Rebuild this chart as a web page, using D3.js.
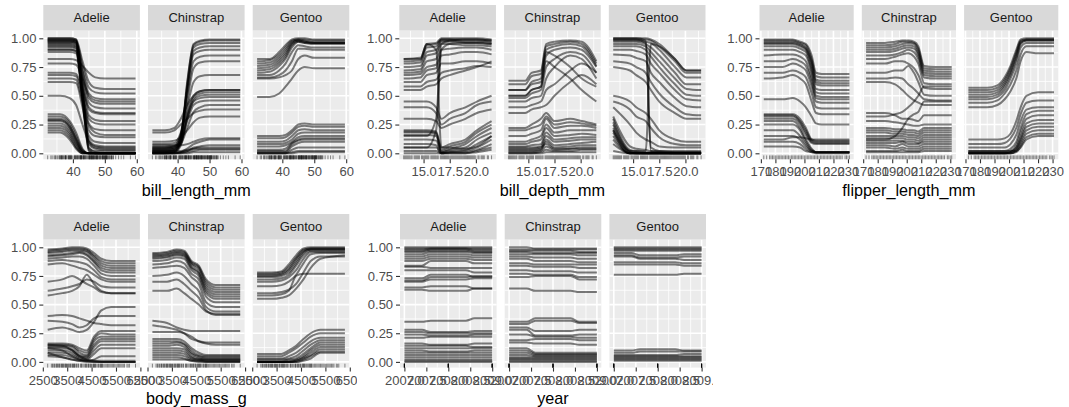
<!DOCTYPE html>
<html>
<head>
<meta charset="utf-8">
<script src="https://cdn.jsdelivr.net/npm/d3@7"></script>
<style>
body { margin: 0; background: #fff; }
text { font-family: "Liberation Sans", Arial, sans-serif; }
</style>
</head>
<body>
<script>
var species = ["Adelie", "Chinstrap", "Gentoo"];
var yTicks = [0, 0.25, 0.5, 0.75, 1];

// ---- bill_length_mm ----
var blGrid = [32.1, 36, 39, 41, 43, 45, 47, 50, 59.6];
var blTicks = [40, 50, 60];
var blRug = [39.1,39.5,40.3,36.7,39.3,38.9,39.2,34.1,42.0,37.8,41.1,38.6,34.6,36.6,38.7,42.5,34.4,46.0,37.7,35.9,38.2,38.8,35.3,40.6,40.5,37.9,37.2,40.9,36.4,42.2,37.6,39.8,36.5,40.8,36.0,44.1,37.0,39.6,37.5,42.3,46.5,50.0,51.3,45.4,52.7,45.2,46.1,46.0,46.6,51.7,47.0,52.0,45.9,50.5,50.3,58.0,46.4,49.2,42.4,48.5,43.2,50.6,46.7,48.7,47.6,45.5,48.4,45.8,49.3,49.6,50.2,45.1,46.3,42.9,44.5,47.8,48.2,47.3,42.8,59.6,49.1,42.6,44.4,44.0,42.7,45.3,43.6,44.9,50.1,45.0,43.8,50.4,45.7,54.3,49.8,49.5,43.5,50.7,47.7,47.5,51.1,52.5,47.4,50.8,43.4,52.1,52.2,49.4,46.9,55.9,47.2,41.7,53.4,43.3,48.1,51.5,55.1,48.8,49.9,32.1,33.1,33.5,35.0,35.7,36.2,41.3,41.4,41.6];
var blAdelie = [
  [1.00,1.00,1.00,0.99,0.55,0.03,0.00,0.00,0.00],
  [0.99,0.99,0.99,0.98,0.50,0.02,0.00,0.00,0.00],
  [0.98,0.98,0.98,0.97,0.60,0.05,0.01,0.00,0.00],
  [0.97,0.97,0.97,0.96,0.45,0.04,0.02,0.02,0.02],
  [0.95,0.95,0.95,0.94,0.50,0.08,0.04,0.03,0.03],
  [0.93,0.93,0.93,0.92,0.45,0.10,0.05,0.04,0.04],
  [0.90,0.90,0.90,0.89,0.50,0.12,0.07,0.06,0.06],
  [1.00,1.00,1.00,0.99,0.80,0.62,0.57,0.56,0.56],
  [0.99,0.99,0.99,0.98,0.76,0.57,0.53,0.52,0.52],
  [0.98,0.98,0.98,0.97,0.72,0.52,0.48,0.47,0.47],
  [0.97,0.97,0.97,0.96,0.70,0.48,0.44,0.43,0.43],
  [0.96,0.96,0.96,0.95,0.66,0.44,0.40,0.39,0.39],
  [0.94,0.94,0.94,0.93,0.62,0.38,0.35,0.34,0.34],
  [0.92,0.92,0.92,0.91,0.58,0.33,0.29,0.28,0.28],
  [0.90,0.90,0.90,0.89,0.52,0.26,0.21,0.20,0.20],
  [0.88,0.88,0.88,0.87,0.48,0.20,0.15,0.14,0.14],
  [0.82,0.82,0.82,0.81,0.76,0.70,0.66,0.65,0.65],
  [0.78,0.78,0.78,0.77,0.65,0.50,0.46,0.45,0.45],
  [0.70,0.70,0.70,0.69,0.55,0.40,0.36,0.35,0.35],
  [0.68,0.68,0.68,0.67,0.50,0.30,0.26,0.25,0.25],
  [0.65,0.65,0.65,0.64,0.45,0.24,0.18,0.16,0.16],
  [0.62,0.62,0.62,0.61,0.40,0.15,0.10,0.09,0.09],
  [0.50,0.50,0.48,0.42,0.25,0.10,0.06,0.05,0.05],
  [0.34,0.34,0.28,0.18,0.04,0.00,0.00,0.00,0.00],
  [0.32,0.32,0.26,0.15,0.03,0.00,0.00,0.00,0.00],
  [0.30,0.30,0.24,0.13,0.02,0.00,0.00,0.00,0.00],
  [0.29,0.29,0.23,0.12,0.02,0.00,0.00,0.00,0.00],
  [0.28,0.28,0.22,0.11,0.01,0.00,0.00,0.00,0.00],
  [0.26,0.26,0.20,0.09,0.01,0.00,0.00,0.00,0.00],
  [0.24,0.24,0.18,0.08,0.01,0.00,0.00,0.00,0.00],
  [0.22,0.22,0.16,0.06,0.00,0.00,0.00,0.00,0.00],
  [0.20,0.20,0.14,0.05,0.00,0.00,0.00,0.00,0.00],
  [0.18,0.18,0.12,0.04,0.00,0.00,0.00,0.00,0.00]
];
var blChinstrap = [
  [0.00,0.00,0.01,0.10,0.60,0.95,0.98,0.99,0.99],
  [0.01,0.01,0.02,0.12,0.62,0.94,0.97,0.98,0.98],
  [0.02,0.02,0.03,0.14,0.58,0.92,0.95,0.96,0.96],
  [0.03,0.03,0.04,0.15,0.55,0.89,0.92,0.93,0.93],
  [0.05,0.05,0.06,0.17,0.55,0.86,0.89,0.90,0.90],
  [0.06,0.06,0.07,0.16,0.50,0.80,0.84,0.85,0.85],
  [0.04,0.04,0.05,0.14,0.45,0.74,0.79,0.80,0.80],
  [0.08,0.08,0.09,0.18,0.40,0.62,0.67,0.68,0.68],
  [0.02,0.02,0.03,0.10,0.35,0.50,0.54,0.55,0.55],
  [0.03,0.03,0.04,0.10,0.33,0.48,0.52,0.53,0.53],
  [0.01,0.01,0.02,0.08,0.31,0.46,0.50,0.51,0.51],
  [0.00,0.00,0.01,0.07,0.30,0.45,0.48,0.49,0.49],
  [0.05,0.05,0.06,0.10,0.28,0.42,0.45,0.46,0.46],
  [0.20,0.20,0.22,0.30,0.42,0.50,0.54,0.55,0.55],
  [0.18,0.18,0.20,0.25,0.30,0.35,0.37,0.38,0.38],
  [0.10,0.10,0.11,0.14,0.20,0.27,0.31,0.32,0.32],
  [0.04,0.04,0.05,0.08,0.22,0.36,0.40,0.42,0.42],
  [0.00,0.00,0.00,0.01,0.04,0.08,0.10,0.12,0.12],
  [0.00,0.00,0.00,0.01,0.02,0.05,0.06,0.07,0.07],
  [0.01,0.01,0.01,0.01,0.02,0.04,0.05,0.05,0.05],
  [0.00,0.00,0.00,0.00,0.01,0.02,0.03,0.03,0.03],
  [0.02,0.02,0.02,0.02,0.03,0.04,0.04,0.04,0.04],
  [0.00,0.00,0.00,0.00,0.00,0.01,0.01,0.01,0.01],
  [0.07,0.07,0.07,0.07,0.08,0.10,0.12,0.13,0.13]
];
var blGentoo = [
  [0.82,0.82,0.88,0.94,0.99,1.00,1.00,0.99,0.99],
  [0.80,0.81,0.86,0.92,0.98,0.99,0.99,0.98,0.98],
  [0.78,0.79,0.84,0.90,0.97,0.99,0.98,0.97,0.97],
  [0.76,0.77,0.82,0.88,0.96,0.98,0.97,0.96,0.96],
  [0.74,0.75,0.80,0.86,0.95,0.98,0.97,0.96,0.96],
  [0.72,0.73,0.78,0.84,0.94,0.97,0.96,0.95,0.95],
  [0.70,0.71,0.76,0.82,0.92,0.97,0.96,0.96,0.96],
  [0.68,0.68,0.72,0.78,0.88,0.94,0.93,0.92,0.92],
  [0.66,0.66,0.68,0.72,0.80,0.91,0.91,0.90,0.90],
  [0.65,0.65,0.66,0.68,0.72,0.82,0.85,0.83,0.83],
  [0.49,0.49,0.52,0.58,0.65,0.72,0.75,0.74,0.74],
  [0.15,0.15,0.15,0.16,0.20,0.25,0.26,0.25,0.25],
  [0.13,0.13,0.13,0.14,0.18,0.23,0.24,0.23,0.23],
  [0.10,0.10,0.10,0.11,0.15,0.20,0.21,0.20,0.20],
  [0.08,0.08,0.08,0.09,0.12,0.17,0.18,0.18,0.18],
  [0.06,0.06,0.06,0.07,0.10,0.14,0.15,0.15,0.15],
  [0.03,0.03,0.03,0.04,0.09,0.12,0.13,0.13,0.13],
  [0.02,0.02,0.02,0.02,0.08,0.11,0.12,0.12,0.12],
  [0.01,0.01,0.01,0.01,0.06,0.09,0.10,0.10,0.10],
  [0.00,0.00,0.00,0.00,0.03,0.05,0.05,0.05,0.05],
  [0.00,0.00,0.00,0.00,0.01,0.02,0.02,0.02,0.02],
  [0.00,0.00,0.00,0.00,0.00,0.01,0.01,0.01,0.01]
];

// ---- bill_depth_mm ----
var bdGrid = [13.1, 14.7, 15.3, 16.2, 16.7, 17.5, 19.0, 20.1, 21.5];
var bdTicks = [15, 17.5, 20];
var bdRug = [18.7,17.4,18.0,19.3,20.6,17.8,19.6,18.1,20.2,17.1,17.3,17.6,21.2,21.1,19.0,20.7,18.4,21.5,18.3,19.2,17.2,18.9,18.6,17.9,16.7,17.0,20.0,18.5,19.1,19.7,16.9,18.8,17.7,19.5,17.5,16.6,18.2,16.2,19.4,16.8,16.1,20.3,15.5,13.2,16.3,14.1,15.2,14.5,13.5,14.6,15.3,13.4,15.4,13.7,14.8,14.2,13.6,13.1,15.7,15.1,14.3,15.0,14.4,13.9,13.8,14.9,15.8,16.4,19.8,20.8,19.9,20.5,16.0,15.9,13.3];
var bdAdelie = [
  [0.82,0.83,0.95,0.96,1.00,1.00,1.00,1.00,0.99],
  [0.80,0.81,0.94,0.95,0.99,0.99,0.99,0.99,0.98],
  [0.78,0.79,0.92,0.93,0.99,0.99,0.98,0.98,0.97],
  [0.75,0.76,0.88,0.90,0.98,0.98,0.97,0.97,0.96],
  [0.72,0.73,0.85,0.87,0.97,0.97,0.96,0.96,0.95],
  [0.70,0.71,0.80,0.82,0.95,0.95,0.94,0.94,0.93],
  [0.68,0.69,0.75,0.77,0.90,0.91,0.92,0.92,0.90],
  [0.65,0.66,0.72,0.74,0.85,0.86,0.88,0.88,0.86],
  [0.62,0.62,0.68,0.70,0.78,0.78,0.80,0.80,0.78],
  [0.58,0.58,0.62,0.64,0.70,0.72,0.74,0.76,0.75],
  [0.55,0.55,0.58,0.60,0.65,0.68,0.72,0.75,0.80],
  [0.45,0.45,0.45,0.40,0.30,0.35,0.40,0.45,0.50],
  [0.40,0.40,0.40,0.35,0.25,0.30,0.35,0.42,0.45],
  [0.30,0.30,0.30,0.28,0.22,0.25,0.30,0.35,0.38],
  [0.20,0.20,0.20,0.19,0.05,0.08,0.12,0.20,0.28],
  [0.19,0.19,0.19,0.18,0.03,0.06,0.10,0.18,0.25],
  [0.18,0.18,0.18,0.17,0.02,0.04,0.08,0.15,0.22],
  [0.16,0.16,0.16,0.15,0.01,0.03,0.05,0.12,0.18],
  [0.12,0.12,0.12,0.11,0.01,0.02,0.03,0.08,0.15],
  [0.08,0.08,0.08,0.07,0.00,0.01,0.02,0.05,0.12],
  [0.05,0.05,0.05,0.05,0.00,0.01,0.01,0.03,0.08],
  [0.02,0.02,0.02,0.02,0.00,0.00,0.00,0.02,0.05],
  [0.00,0.00,0.00,0.00,0.00,0.00,0.00,0.01,0.03],
  [0.15,0.15,0.15,0.30,0.95,0.98,0.99,0.99,0.98],
  [0.05,0.05,0.05,0.20,0.90,0.95,0.96,0.96,0.95],
  [0.82,0.82,0.95,0.90,0.05,0.05,0.04,0.06,0.15]
];
var bdChinstrap = [
  [0.63,0.63,0.70,0.72,0.95,0.97,0.98,0.97,0.80],
  [0.60,0.60,0.67,0.69,0.93,0.95,0.97,0.95,0.78],
  [0.55,0.55,0.62,0.65,0.90,0.93,0.95,0.93,0.76],
  [0.50,0.50,0.55,0.58,0.85,0.90,0.92,0.90,0.75],
  [0.48,0.48,0.52,0.55,0.75,0.82,0.88,0.86,0.70],
  [0.45,0.45,0.48,0.50,0.65,0.75,0.85,0.82,0.65],
  [0.55,0.55,0.60,0.62,0.88,0.85,0.75,0.65,0.58],
  [0.50,0.50,0.55,0.58,0.80,0.75,0.65,0.55,0.45],
  [0.40,0.40,0.42,0.45,0.55,0.60,0.72,0.78,0.70],
  [0.35,0.35,0.38,0.40,0.42,0.50,0.62,0.68,0.60],
  [0.22,0.22,0.25,0.30,0.35,0.28,0.30,0.28,0.25],
  [0.20,0.20,0.22,0.25,0.32,0.25,0.27,0.26,0.24],
  [0.15,0.15,0.17,0.20,0.30,0.22,0.24,0.24,0.22],
  [0.10,0.10,0.12,0.15,0.25,0.18,0.20,0.20,0.20],
  [0.08,0.08,0.10,0.12,0.22,0.15,0.16,0.17,0.16],
  [0.06,0.06,0.07,0.08,0.18,0.12,0.13,0.14,0.14],
  [0.05,0.05,0.05,0.06,0.15,0.10,0.11,0.12,0.12],
  [0.03,0.03,0.03,0.04,0.12,0.07,0.08,0.09,0.10],
  [0.02,0.02,0.02,0.03,0.10,0.05,0.06,0.07,0.07],
  [0.01,0.01,0.01,0.02,0.06,0.03,0.04,0.05,0.05],
  [0.00,0.00,0.00,0.01,0.03,0.02,0.02,0.03,0.03],
  [0.00,0.00,0.00,0.00,0.01,0.01,0.01,0.01,0.01],
  [0.04,0.04,0.04,0.05,0.08,0.04,0.04,0.04,0.04]
];
var bdGentoo = [
  [1.00,1.00,1.00,1.00,0.99,0.95,0.82,0.72,0.72],
  [0.99,0.99,0.99,0.99,0.98,0.93,0.80,0.70,0.70],
  [0.98,0.98,0.98,0.97,0.96,0.90,0.75,0.66,0.66],
  [0.97,0.97,0.97,0.95,0.92,0.85,0.70,0.60,0.60],
  [0.95,0.95,0.95,0.93,0.88,0.80,0.65,0.56,0.55],
  [0.93,0.93,0.93,0.90,0.84,0.75,0.60,0.51,0.50],
  [0.90,0.90,0.89,0.86,0.78,0.70,0.55,0.47,0.46],
  [0.86,0.85,0.83,0.80,0.70,0.62,0.48,0.41,0.40],
  [0.80,0.78,0.75,0.70,0.62,0.52,0.40,0.34,0.33],
  [0.75,0.72,0.68,0.62,0.55,0.45,0.35,0.30,0.30],
  [1.00,1.00,1.00,0.98,0.05,0.02,0.01,0.01,0.01],
  [0.99,0.99,0.99,0.96,0.02,0.01,0.00,0.00,0.00],
  [0.20,0.02,0.02,0.02,0.95,0.93,0.82,0.72,0.72],
  [0.50,0.45,0.40,0.35,0.30,0.20,0.12,0.10,0.10],
  [0.45,0.38,0.32,0.28,0.22,0.14,0.08,0.07,0.07],
  [0.40,0.25,0.18,0.12,0.10,0.06,0.05,0.05,0.05],
  [0.32,0.06,0.04,0.03,0.02,0.02,0.02,0.02,0.02],
  [0.30,0.03,0.02,0.01,0.01,0.01,0.01,0.01,0.01],
  [0.27,0.02,0.01,0.00,0.00,0.00,0.00,0.00,0.00],
  [0.25,0.01,0.00,0.00,0.00,0.00,0.00,0.00,0.00],
  [0.22,0.01,0.00,0.00,0.00,0.00,0.00,0.00,0.00],
  [0.20,0.00,0.00,0.00,0.00,0.00,0.00,0.00,0.00],
  [0.18,0.00,0.00,0.00,0.00,0.00,0.00,0.00,0.00],
  [0.15,0.00,0.00,0.00,0.00,0.00,0.00,0.00,0.00],
  [0.12,0.00,0.00,0.00,0.00,0.00,0.00,0.00,0.00],
  [0.08,0.00,0.00,0.00,0.00,0.00,0.00,0.00,0.00],
  [0.02,0.00,0.00,0.00,0.00,0.00,0.00,0.00,0.00]
];

// ---- flipper_length_mm ----
var flGrid = [172, 185, 192, 197, 201, 205, 208, 212, 220, 231];
var flTicks = [170, 180, 190, 200, 210, 220, 230];
var flRug = [181,186,195,193,190,180,182,191,198,185,197,184,194,174,189,187,183,172,178,188,196,192,199,200,202,205,203,208,210,201,211,212,213,215,216,217,218,219,220,221,222,223,224,225,226,228,229,230,231,209,214,207,206,204,176,179,177];
var flAdelie = [
  [0.99,0.99,0.99,0.97,0.95,0.85,0.70,0.69,0.69,0.69],
  [0.98,0.98,0.98,0.96,0.94,0.82,0.67,0.66,0.66,0.66],
  [0.97,0.97,0.97,0.95,0.92,0.80,0.64,0.63,0.63,0.63],
  [0.96,0.96,0.96,0.94,0.91,0.78,0.62,0.61,0.61,0.61],
  [0.95,0.95,0.95,0.93,0.90,0.76,0.60,0.59,0.59,0.59],
  [0.93,0.93,0.93,0.91,0.88,0.72,0.56,0.55,0.55,0.55],
  [0.90,0.90,0.90,0.88,0.85,0.70,0.53,0.52,0.52,0.52],
  [0.85,0.86,0.86,0.84,0.80,0.65,0.50,0.49,0.49,0.49],
  [0.80,0.80,0.82,0.80,0.76,0.62,0.48,0.47,0.47,0.47],
  [0.75,0.75,0.78,0.76,0.72,0.58,0.45,0.44,0.44,0.44],
  [0.70,0.70,0.72,0.70,0.66,0.52,0.40,0.39,0.39,0.39],
  [0.65,0.66,0.68,0.65,0.60,0.45,0.35,0.34,0.34,0.34],
  [0.47,0.47,0.48,0.45,0.40,0.32,0.26,0.25,0.25,0.25],
  [0.34,0.34,0.34,0.30,0.22,0.12,0.11,0.11,0.11,0.11],
  [0.33,0.33,0.33,0.28,0.20,0.11,0.10,0.10,0.10,0.10],
  [0.32,0.32,0.32,0.27,0.18,0.10,0.09,0.09,0.09,0.09],
  [0.30,0.30,0.30,0.25,0.16,0.09,0.08,0.08,0.08,0.08],
  [0.28,0.28,0.28,0.22,0.12,0.04,0.01,0.01,0.01,0.01],
  [0.25,0.25,0.25,0.20,0.10,0.03,0.01,0.01,0.01,0.01],
  [0.20,0.20,0.20,0.15,0.08,0.02,0.01,0.01,0.01,0.01],
  [0.15,0.15,0.15,0.12,0.06,0.02,0.01,0.01,0.01,0.01],
  [0.10,0.10,0.10,0.08,0.04,0.01,0.01,0.01,0.01,0.01],
  [0.06,0.06,0.06,0.05,0.02,0.01,0.00,0.00,0.00,0.00],
  [0.12,0.12,0.14,0.14,0.13,0.12,0.12,0.12,0.12,0.12]
];
var flChinstrap = [
  [0.96,0.96,0.97,0.98,0.98,0.97,0.93,0.76,0.75,0.75],
  [0.94,0.94,0.95,0.97,0.97,0.96,0.91,0.74,0.73,0.73],
  [0.92,0.92,0.93,0.95,0.96,0.95,0.89,0.72,0.71,0.71],
  [0.90,0.90,0.91,0.93,0.94,0.93,0.87,0.70,0.69,0.69],
  [0.88,0.88,0.89,0.91,0.92,0.91,0.85,0.68,0.67,0.67],
  [0.85,0.85,0.86,0.88,0.90,0.88,0.82,0.66,0.65,0.65],
  [0.82,0.82,0.84,0.86,0.87,0.84,0.78,0.61,0.60,0.60],
  [0.78,0.78,0.80,0.80,0.78,0.74,0.68,0.57,0.56,0.56],
  [0.70,0.70,0.72,0.72,0.76,0.70,0.62,0.51,0.50,0.50],
  [0.65,0.65,0.66,0.65,0.60,0.56,0.52,0.47,0.46,0.46],
  [0.62,0.62,0.60,0.55,0.50,0.46,0.44,0.42,0.42,0.42],
  [0.32,0.32,0.34,0.36,0.40,0.45,0.50,0.58,0.58,0.58],
  [0.12,0.12,0.15,0.22,0.30,0.34,0.36,0.45,0.45,0.45],
  [0.35,0.35,0.33,0.30,0.30,0.29,0.28,0.33,0.33,0.33],
  [0.28,0.28,0.27,0.26,0.25,0.24,0.24,0.25,0.25,0.25],
  [0.22,0.22,0.21,0.21,0.20,0.20,0.19,0.22,0.22,0.22],
  [0.20,0.20,0.19,0.19,0.18,0.18,0.17,0.20,0.20,0.20],
  [0.18,0.18,0.17,0.17,0.16,0.16,0.15,0.18,0.18,0.18],
  [0.15,0.15,0.15,0.15,0.14,0.14,0.13,0.16,0.16,0.16],
  [0.13,0.13,0.13,0.13,0.12,0.12,0.11,0.14,0.14,0.14],
  [0.11,0.11,0.11,0.11,0.10,0.10,0.09,0.12,0.12,0.12],
  [0.09,0.09,0.09,0.10,0.08,0.08,0.08,0.10,0.10,0.10],
  [0.07,0.07,0.06,0.08,0.06,0.06,0.06,0.08,0.08,0.08],
  [0.05,0.05,0.04,0.05,0.04,0.04,0.04,0.06,0.06,0.06],
  [0.02,0.02,0.02,0.03,0.02,0.02,0.02,0.04,0.04,0.04],
  [0.01,0.01,0.01,0.01,0.01,0.01,0.01,0.02,0.02,0.02]
];
var flGentoo = [
  [0.57,0.57,0.59,0.66,0.76,0.90,0.99,1.00,1.00,1.00],
  [0.55,0.55,0.57,0.64,0.74,0.88,0.98,0.99,0.99,0.99],
  [0.53,0.53,0.55,0.62,0.72,0.86,0.97,0.99,0.99,0.99],
  [0.51,0.51,0.53,0.60,0.70,0.84,0.96,0.98,0.98,0.98],
  [0.49,0.49,0.51,0.58,0.68,0.82,0.95,0.98,0.98,0.98],
  [0.47,0.47,0.49,0.55,0.65,0.78,0.92,0.96,0.96,0.96],
  [0.44,0.44,0.46,0.52,0.60,0.72,0.86,0.93,0.93,0.93],
  [0.40,0.40,0.42,0.47,0.54,0.65,0.80,0.88,0.87,0.87],
  [0.12,0.12,0.12,0.13,0.17,0.28,0.40,0.50,0.53,0.53],
  [0.08,0.08,0.08,0.09,0.13,0.22,0.34,0.44,0.46,0.46],
  [0.05,0.05,0.05,0.05,0.08,0.16,0.28,0.38,0.40,0.40],
  [0.02,0.02,0.02,0.02,0.04,0.10,0.22,0.34,0.37,0.37],
  [0.01,0.01,0.01,0.01,0.02,0.07,0.18,0.30,0.33,0.33],
  [0.00,0.00,0.00,0.00,0.01,0.05,0.14,0.26,0.29,0.29],
  [0.00,0.00,0.00,0.00,0.01,0.04,0.12,0.23,0.26,0.26],
  [0.00,0.00,0.00,0.00,0.00,0.03,0.10,0.20,0.23,0.23],
  [0.00,0.00,0.00,0.00,0.00,0.02,0.08,0.17,0.20,0.20],
  [0.00,0.00,0.00,0.00,0.00,0.01,0.06,0.14,0.17,0.17],
  [0.02,0.02,0.02,0.02,0.02,0.02,0.05,0.12,0.15,0.15]
];

// ---- body_mass_g ----
var bmGrid = [2700, 3300, 3700, 4000, 4300, 4600, 4900, 5300, 6300];
var bmTicks = [2500, 3500, 4500, 5500, 6500];
var bmRug = [3750,3800,3250,3450,3650,3625,4675,3475,4250,3300,3700,3200,4400,3325,4200,3400,3600,3950,3550,3150,3900,4150,4650,3100,3000,4600,2975,3500,4300,4050,2900,2850,4100,3050,4450,3725,4725,3075,2925,3175,4775,3825,4275,4075,3775,3350,3875,3275,4475,3425,3975,4500,5700,5400,4550,4800,5200,5150,5550,5850,6300,5350,5000,5050,5100,5650,5250,6050,4950,4350,4900,5300,4850,5800,6000,5950,5450,5600,4875,5500,4575,4375,4925,5750,2700,4625,3525];
var bmAdelie = [
  [0.98,0.99,1.00,1.00,0.99,0.95,0.90,0.88,0.88],
  [0.97,0.98,0.99,0.99,0.98,0.93,0.88,0.86,0.86],
  [0.96,0.97,0.98,0.98,0.97,0.92,0.86,0.84,0.84],
  [0.95,0.96,0.97,0.97,0.96,0.90,0.84,0.82,0.82],
  [0.93,0.94,0.95,0.96,0.94,0.88,0.82,0.80,0.80],
  [0.92,0.93,0.94,0.95,0.93,0.87,0.80,0.78,0.78],
  [0.90,0.91,0.92,0.92,0.90,0.84,0.77,0.75,0.75],
  [0.88,0.89,0.88,0.87,0.85,0.80,0.74,0.72,0.72],
  [0.85,0.86,0.84,0.82,0.80,0.76,0.72,0.70,0.70],
  [0.70,0.72,0.75,0.72,0.68,0.65,0.61,0.60,0.60],
  [0.62,0.64,0.66,0.68,0.72,0.70,0.66,0.65,0.65],
  [0.58,0.60,0.62,0.66,0.76,0.68,0.62,0.60,0.60],
  [0.40,0.41,0.40,0.38,0.36,0.34,0.33,0.32,0.32],
  [0.36,0.35,0.33,0.30,0.32,0.38,0.40,0.40,0.40],
  [0.28,0.30,0.28,0.26,0.28,0.35,0.45,0.48,0.48],
  [0.16,0.16,0.15,0.12,0.10,0.22,0.27,0.27,0.27],
  [0.15,0.15,0.14,0.10,0.08,0.20,0.25,0.24,0.24],
  [0.14,0.14,0.13,0.08,0.06,0.18,0.22,0.22,0.22],
  [0.13,0.13,0.11,0.06,0.05,0.15,0.20,0.20,0.20],
  [0.12,0.12,0.10,0.05,0.04,0.13,0.18,0.18,0.18],
  [0.10,0.10,0.08,0.04,0.03,0.10,0.15,0.15,0.15],
  [0.08,0.08,0.06,0.03,0.02,0.07,0.12,0.12,0.12],
  [0.06,0.06,0.04,0.02,0.01,0.02,0.05,0.05,0.05],
  [0.05,0.04,0.02,0.01,0.01,0.01,0.01,0.01,0.01],
  [0.15,0.14,0.10,0.05,0.02,0.01,0.00,0.00,0.00],
  [0.12,0.10,0.05,0.02,0.01,0.00,0.00,0.00,0.00],
  [0.08,0.04,0.02,0.01,0.00,0.00,0.00,0.00,0.00]
];
var bmChinstrap = [
  [0.95,0.96,0.98,0.97,0.88,0.84,0.72,0.67,0.67],
  [0.94,0.95,0.97,0.96,0.87,0.83,0.70,0.65,0.65],
  [0.93,0.94,0.96,0.95,0.86,0.82,0.68,0.63,0.63],
  [0.92,0.93,0.95,0.94,0.85,0.80,0.66,0.61,0.61],
  [0.91,0.92,0.94,0.93,0.83,0.78,0.64,0.59,0.59],
  [0.90,0.91,0.93,0.92,0.82,0.77,0.62,0.57,0.57],
  [0.88,0.89,0.91,0.90,0.80,0.75,0.60,0.55,0.55],
  [0.85,0.86,0.88,0.86,0.77,0.72,0.57,0.52,0.52],
  [0.82,0.83,0.84,0.82,0.74,0.68,0.52,0.48,0.48],
  [0.75,0.76,0.78,0.75,0.68,0.62,0.48,0.44,0.44],
  [0.70,0.70,0.72,0.68,0.62,0.56,0.45,0.41,0.41],
  [0.62,0.62,0.64,0.60,0.55,0.50,0.44,0.42,0.42],
  [0.36,0.34,0.30,0.28,0.27,0.27,0.27,0.27,0.27],
  [0.32,0.30,0.28,0.25,0.20,0.18,0.17,0.17,0.17],
  [0.26,0.26,0.26,0.25,0.22,0.18,0.16,0.15,0.15],
  [0.20,0.20,0.20,0.18,0.12,0.08,0.06,0.06,0.06],
  [0.18,0.18,0.18,0.16,0.10,0.06,0.05,0.05,0.05],
  [0.16,0.16,0.17,0.15,0.08,0.05,0.04,0.04,0.04],
  [0.14,0.14,0.15,0.13,0.07,0.04,0.03,0.03,0.03],
  [0.12,0.12,0.12,0.11,0.05,0.03,0.02,0.02,0.02],
  [0.10,0.10,0.10,0.09,0.04,0.02,0.02,0.02,0.02],
  [0.08,0.08,0.08,0.07,0.03,0.02,0.01,0.01,0.01],
  [0.06,0.06,0.06,0.05,0.02,0.01,0.01,0.01,0.01],
  [0.04,0.04,0.04,0.03,0.01,0.01,0.00,0.00,0.00],
  [0.02,0.02,0.02,0.02,0.01,0.00,0.00,0.00,0.00]
];
var bmGentoo = [
  [0.78,0.78,0.79,0.85,0.93,0.99,1.00,1.00,1.00],
  [0.77,0.77,0.78,0.83,0.91,0.98,0.99,0.99,0.99],
  [0.76,0.76,0.77,0.81,0.90,0.97,0.99,0.99,0.99],
  [0.75,0.75,0.76,0.80,0.88,0.96,0.98,0.98,0.98],
  [0.74,0.74,0.75,0.78,0.86,0.95,0.98,0.98,0.98],
  [0.72,0.72,0.73,0.76,0.84,0.93,0.97,0.97,0.97],
  [0.70,0.70,0.71,0.74,0.80,0.90,0.96,0.96,0.96],
  [0.66,0.66,0.67,0.70,0.76,0.86,0.94,0.95,0.95],
  [0.60,0.60,0.61,0.63,0.68,0.78,0.88,0.92,0.92],
  [0.58,0.58,0.59,0.62,0.75,0.77,0.77,0.77,0.77],
  [0.55,0.55,0.56,0.58,0.64,0.72,0.82,0.90,0.93],
  [0.07,0.07,0.07,0.10,0.14,0.20,0.25,0.28,0.28],
  [0.05,0.05,0.05,0.08,0.12,0.17,0.22,0.25,0.25],
  [0.03,0.03,0.03,0.05,0.08,0.13,0.18,0.21,0.21],
  [0.02,0.02,0.02,0.03,0.05,0.10,0.15,0.19,0.19],
  [0.01,0.01,0.01,0.02,0.03,0.07,0.12,0.17,0.17],
  [0.00,0.00,0.00,0.01,0.02,0.05,0.10,0.15,0.15],
  [0.00,0.00,0.00,0.00,0.01,0.04,0.08,0.13,0.13],
  [0.00,0.00,0.00,0.00,0.01,0.03,0.06,0.11,0.11],
  [0.00,0.00,0.00,0.00,0.00,0.02,0.05,0.09,0.09],
  [0.00,0.00,0.00,0.00,0.00,0.01,0.03,0.08,0.08]
];

// ---- year ----
var yrGrid = [2007, 2007.4, 2007.6, 2008.4, 2008.6, 2009];
var yrTicks = [2007, 2007.5, 2008, 2008.5, 2009];
var yrRug = [2007,2007,2007,2007,2007,2007,2007,2007,2008,2008,2008,2008,2008,2008,2008,2008,2009,2009,2009,2009,2009,2009,2009,2009];
var yrAdelie = [
  [1.00,1.00,1.00,1.00,1.00,1.00],
  [0.99,0.99,0.99,0.99,0.99,0.99],
  [0.98,0.98,0.99,0.99,0.98,0.98],
  [0.97,0.97,0.98,0.98,0.97,0.97],
  [0.96,0.96,0.97,0.97,0.96,0.96],
  [0.94,0.94,0.96,0.96,0.95,0.95],
  [0.92,0.92,0.94,0.94,0.93,0.93],
  [0.90,0.90,0.92,0.92,0.91,0.91],
  [0.88,0.88,0.90,0.90,0.89,0.89],
  [0.84,0.84,0.88,0.88,0.86,0.86],
  [0.83,0.83,0.82,0.82,0.82,0.82],
  [0.80,0.80,0.80,0.80,0.78,0.78],
  [0.73,0.73,0.76,0.76,0.74,0.74],
  [0.71,0.71,0.74,0.74,0.75,0.75],
  [0.70,0.70,0.72,0.72,0.73,0.73],
  [0.65,0.65,0.66,0.66,0.64,0.64],
  [0.63,0.63,0.62,0.62,0.64,0.64],
  [0.35,0.35,0.36,0.36,0.38,0.38],
  [0.28,0.28,0.26,0.26,0.27,0.27],
  [0.26,0.26,0.25,0.25,0.25,0.25],
  [0.24,0.24,0.23,0.23,0.24,0.24],
  [0.21,0.21,0.22,0.22,0.22,0.22],
  [0.16,0.16,0.15,0.15,0.16,0.16],
  [0.14,0.14,0.14,0.14,0.13,0.13],
  [0.12,0.12,0.12,0.12,0.12,0.12],
  [0.10,0.10,0.09,0.09,0.10,0.10],
  [0.08,0.08,0.08,0.08,0.08,0.08],
  [0.06,0.06,0.06,0.06,0.06,0.06],
  [0.04,0.04,0.04,0.04,0.04,0.04],
  [0.02,0.02,0.02,0.02,0.02,0.02],
  [0.01,0.01,0.01,0.01,0.01,0.01],
  [0.00,0.00,0.00,0.00,0.00,0.00]
];
var yrChinstrap = [
  [1.00,1.00,0.99,0.99,0.99,0.99],
  [0.98,0.98,0.98,0.98,0.98,0.98],
  [0.97,0.97,0.97,0.97,0.96,0.96],
  [0.96,0.96,0.95,0.95,0.95,0.95],
  [0.94,0.94,0.94,0.94,0.93,0.93],
  [0.92,0.92,0.91,0.91,0.90,0.90],
  [0.90,0.90,0.88,0.88,0.87,0.87],
  [0.86,0.86,0.85,0.85,0.85,0.85],
  [0.84,0.84,0.83,0.83,0.82,0.82],
  [0.80,0.80,0.79,0.79,0.78,0.78],
  [0.77,0.77,0.76,0.76,0.74,0.74],
  [0.74,0.74,0.75,0.75,0.72,0.72],
  [0.64,0.64,0.62,0.62,0.61,0.61],
  [0.35,0.35,0.38,0.38,0.35,0.35],
  [0.33,0.33,0.36,0.36,0.34,0.34],
  [0.30,0.30,0.27,0.27,0.28,0.28],
  [0.28,0.28,0.23,0.23,0.24,0.24],
  [0.24,0.24,0.22,0.22,0.21,0.21],
  [0.19,0.19,0.20,0.20,0.19,0.19],
  [0.17,0.17,0.16,0.16,0.15,0.15],
  [0.12,0.12,0.08,0.08,0.08,0.08],
  [0.10,0.10,0.07,0.07,0.07,0.07],
  [0.08,0.08,0.06,0.06,0.06,0.06],
  [0.06,0.06,0.05,0.05,0.05,0.05],
  [0.04,0.04,0.04,0.04,0.04,0.04],
  [0.03,0.03,0.03,0.03,0.03,0.03],
  [0.02,0.02,0.02,0.02,0.02,0.02],
  [0.01,0.01,0.01,0.01,0.01,0.01],
  [0.00,0.00,0.00,0.00,0.00,0.00]
];
var yrGentoo = [
  [1.00,1.00,1.00,1.00,1.00,1.00],
  [0.99,0.99,0.99,0.99,0.99,0.99],
  [0.98,0.98,0.98,0.98,0.98,0.98],
  [0.97,0.97,0.97,0.97,0.97,0.97],
  [0.95,0.95,0.93,0.93,0.94,0.94],
  [0.93,0.93,0.91,0.91,0.92,0.92],
  [0.92,0.92,0.90,0.90,0.89,0.89],
  [0.87,0.87,0.87,0.87,0.86,0.86],
  [0.85,0.85,0.85,0.85,0.84,0.84],
  [0.76,0.76,0.76,0.76,0.77,0.77],
  [0.10,0.10,0.11,0.11,0.10,0.10],
  [0.08,0.08,0.09,0.09,0.09,0.09],
  [0.06,0.06,0.06,0.06,0.07,0.07],
  [0.05,0.05,0.05,0.05,0.05,0.05],
  [0.04,0.04,0.04,0.04,0.04,0.04],
  [0.03,0.03,0.03,0.03,0.03,0.03],
  [0.02,0.02,0.02,0.02,0.02,0.02],
  [0.01,0.01,0.01,0.01,0.01,0.01]
];

var rows = [
  {strip: 5,   top: 30.5,  y1: 38.3,  y0: 153.3, bottom: 159.3, title: 190},
  {strip: 214, top: 239.5, y1: 247.3, y0: 361.9, bottom: 367.6, title: 398.5}
];
var groups = [
  {title: "bill_length_mm",    grid: blGrid, ticks: blTicks, fmt: d3.format("d"),   rug: blRug, curves: [blAdelie, blChinstrap, blGentoo], row: 0, x0: 43.3,  x1: 349.3, clip: [0, 357]},
  {title: "bill_depth_mm",     grid: bdGrid, ticks: bdTicks, fmt: d3.format(".1f"), rug: bdRug, curves: [bdAdelie, bdChinstrap, bdGentoo], row: 0, x0: 399.3, x1: 705.5, clip: [357, 713]},
  {title: "flipper_length_mm", grid: flGrid, ticks: flTicks, fmt: d3.format("d"),   rug: flRug, curves: [flAdelie, flChinstrap, flGentoo], row: 0, x0: 759.5, x1: 1058.3, clip: [713, 1069]},
  {title: "body_mass_g",       grid: bmGrid, ticks: bmTicks, fmt: d3.format("d"),   rug: bmRug, curves: [bmAdelie, bmChinstrap, bmGentoo], row: 1, x0: 43.3,  x1: 349.3, clip: [0, 357]},
  {title: "year",              grid: yrGrid, ticks: yrTicks, fmt: d3.format(".1f"), rug: yrRug, curves: [yrAdelie, yrChinstrap, yrGentoo], row: 1, x0: 400,   x1: 706,   clip: [357, 713]}
];

var W = 1069, H = 407;
var gap = 8.1;
var fontTick = 13, fontTitle = 16.2;

var svg = d3.select("body").append("svg")
  .attr("width", W)
  .attr("height", H);

var defs = svg.append("defs");

groups.forEach(function(gr, gi) {
  var row = rows[gr.row];
  var pw = (gr.x1 - gr.x0 - 2 * gap) / 3;
  var ext = d3.extent(gr.grid);
  var pad = (ext[1] - ext[0]) * 0.05;
  var dom = [ext[0] - pad, ext[1] + pad];

  var y = d3.scaleLinear().domain([0, 1]).range([row.y0, row.y1]);

  // minor breaks halfway between majors
  var step = gr.ticks[1] - gr.ticks[0];
  var minors = [gr.ticks[0] - step / 2].concat(gr.ticks.map(function(t) { return t + step / 2; }))
    .filter(function(v) { return v > dom[0] && v < dom[1]; });
  var yMinors = [-0.125, 0.125, 0.375, 0.625, 0.875, 1.125];

  defs.append("clipPath").attr("id", "clip" + gi)
    .append("rect")
    .attr("x", gr.clip[0]).attr("y", 0)
    .attr("width", gr.clip[1] - gr.clip[0]).attr("height", H);

  var g = svg.append("g").attr("clip-path", "url(#clip" + gi + ")");

  species.forEach(function(sp, si) {
    var px = gr.x0 + si * (pw + gap);
    var x = d3.scaleLinear().domain(dom).range([px, px + pw]);
    var pg = g.append("g");

    // panel background
    pg.append("rect")
      .attr("x", px).attr("y", row.top)
      .attr("width", pw).attr("height", row.bottom - row.top)
      .attr("fill", "#EBEBEB");

    // minor grid
    pg.selectAll(".vminor").data(minors).enter().append("line")
      .attr("x1", function(d) { return x(d); }).attr("x2", function(d) { return x(d); })
      .attr("y1", row.top).attr("y2", row.bottom)
      .attr("stroke", "#fff").attr("stroke-width", 0.8);
    pg.selectAll(".hminor").data(yMinors.filter(function(v) { return y(v) > row.top && y(v) < row.bottom; }))
      .enter().append("line")
      .attr("x1", px).attr("x2", px + pw)
      .attr("y1", function(d) { return y(d); }).attr("y2", function(d) { return y(d); })
      .attr("stroke", "#fff").attr("stroke-width", 0.8);

    // major grid
    pg.selectAll(".vmajor").data(gr.ticks.filter(function(v) { return v > dom[0] && v < dom[1]; }))
      .enter().append("line")
      .attr("x1", function(d) { return x(d); }).attr("x2", function(d) { return x(d); })
      .attr("y1", row.top).attr("y2", row.bottom)
      .attr("stroke", "#fff").attr("stroke-width", 1.6);
    pg.selectAll(".hmajor").data(yTicks).enter().append("line")
      .attr("x1", px).attr("x2", px + pw)
      .attr("y1", function(d) { return y(d); }).attr("y2", function(d) { return y(d); })
      .attr("stroke", "#fff").attr("stroke-width", 1.6);

    // ICE curves
    var line = d3.line()
      .x(function(d, i) { return x(gr.grid[i]); })
      .y(function(d) { return y(d); })
      .curve(d3.curveMonotoneX);
    pg.selectAll(".ice").data(gr.curves[si]).enter().append("path")
      .attr("d", line)
      .attr("fill", "none")
      .attr("stroke", "#000")
      .attr("stroke-opacity", 0.5)
      .attr("stroke-width", 2.0);

    // rug
    pg.selectAll(".rug").data(gr.rug).enter().append("line")
      .attr("x1", function(d) { return x(d); }).attr("x2", function(d) { return x(d); })
      .attr("y1", row.bottom - 3.9).attr("y2", row.bottom)
      .attr("stroke", "#000").attr("stroke-opacity", 0.45).attr("stroke-width", 1);

    // x axis
    var xa = pg.append("g")
      .attr("transform", "translate(0," + row.bottom + ")")
      .call(d3.axisBottom(x).tickValues(gr.ticks).tickFormat(gr.fmt).tickSize(4).tickPadding(3.8));
    xa.select(".domain").remove();
    xa.selectAll("line").attr("stroke", "#333333").attr("stroke-width", 1.1);
    xa.selectAll("text").attr("fill", "#4D4D4D").attr("font-size", fontTick)
      .attr("font-family", "Liberation Sans, Arial, sans-serif");

    // strip
    pg.append("rect")
      .attr("x", px).attr("y", row.strip)
      .attr("width", pw).attr("height", row.top - row.strip)
      .attr("fill", "#D9D9D9");
    pg.append("text")
      .attr("x", px + pw / 2).attr("y", (row.strip + row.top) / 2)
      .attr("dy", "0.35em")
      .attr("text-anchor", "middle")
      .attr("fill", "#1A1A1A")
      .attr("font-size", fontTick)
      .text(sp);

    // y axis only on the first panel
    if (si === 0) {
      var ya = pg.append("g")
        .attr("transform", "translate(" + px + ",0)")
        .call(d3.axisLeft(y).tickValues(yTicks).tickFormat(d3.format(".2f")).tickSize(4).tickPadding(2.9));
      ya.select(".domain").remove();
      ya.selectAll("line").attr("stroke", "#333333").attr("stroke-width", 1.1);
      ya.selectAll("text").attr("fill", "#4D4D4D").attr("font-size", fontTick)
        .attr("font-family", "Liberation Sans, Arial, sans-serif");
    }
  });

  // axis title
  g.append("text")
    .attr("x", (gr.x0 + gr.x1) / 2)
    .attr("y", row.title)
    .attr("dy", "0.35em")
    .attr("text-anchor", "middle")
    .attr("fill", "#000")
    .attr("font-size", fontTitle)
    .text(gr.title);
});
</script>
</body>
</html>
